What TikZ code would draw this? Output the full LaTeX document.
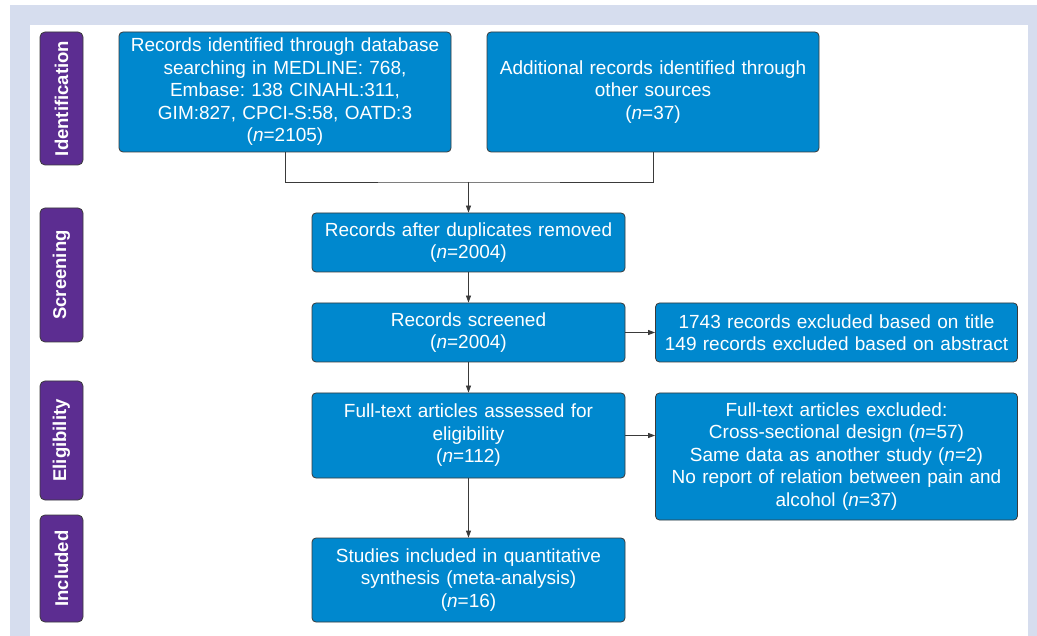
\documentclass[tikz,border=0pt]{standalone}
\usepackage{fontspec}
\setmainfont{Liberation Sans}
\usepackage{tikz}
\usetikzlibrary{positioning, arrows.meta, calc}

\definecolor{bandgrey}{HTML}{D6DDEE}
\definecolor{boxblue}{HTML}{0088CE}
\definecolor{stagepurple}{HTML}{5C2D91}
\definecolor{edgegrey}{HTML}{3A3A3A}
\newcommand{\ncount}{\textit{n}}
\frenchspacing

\begin{document}
\begin{tikzpicture}[
                x=1pt, y=-1pt,
                font=\fontsize{19}{22.5}\selectfont,
                flow/.style={-{Triangle[length=7pt, width=5pt]}, thick, edgegrey},
                joint/.style={thick, edgegrey},
                record_box/.style={rectangle, fill=boxblue, draw=edgegrey, thick, rounded corners=4pt, align=center, text=white, inner sep=0pt},
                stage_box/.style={rectangle, fill=stagepurple, draw=edgegrey, thick, rounded corners=5pt, rotate=90, text=white, font=\fontsize{18.5}{22}\selectfont\bfseries, minimum height=43pt, inner sep=0pt}
            ]
                % Frame
                \useasboundingbox (0,0) rectangle (1037,636);
                \fill[bandgrey] (10,5) rectangle (1037,636);
                \fill[white] (30,25) rectangle (1028,636);

                % Stage labels
                \node[stage_box, minimum width=133pt] (ident) at (61.5,98.5) {Identification};
                \node[stage_box, minimum width=134pt] (screen) at (61.5,275) {Screening};
                \node[stage_box, minimum width=119pt] (elig) at (61.5,440.5) {Eligibility};
                \node[stage_box, minimum width=107pt] (incl) at (61.5,568.5) {Included};

                % Identification boxes
                \node[record_box, minimum width=332pt, minimum height=120pt, text width=325pt] (database) at (285,92)
                    {Records identified through database\\searching in MEDLINE: 768,\\Embase: 138 CINAHL:311,\\GIM:827, CPCI-S:58, OATD:3\\(\ncount=2105)};
                \node[record_box, minimum width=332pt, minimum height=120pt, text width=325pt] (other) at (653,92)
                    {Additional records identified through\\other sources\\(\ncount=37)};

                % Main column
                \node[record_box, minimum width=313pt, minimum height=59pt, text width=306pt] (dedup) at (468.5,242.5)
                    {Records after duplicates removed\\(\ncount=2004)};
                \node[record_box, minimum width=313pt, minimum height=59pt, text width=306pt] (screened) at (468.5,332.5)
                    {Records screened\\(\ncount=2004)};
                \node[record_box, minimum width=313pt, minimum height=85pt, text width=306pt] (fulltext) at (468.5,435.5)
                    {Full-text articles assessed for\\eligibility\\(\ncount=112)};
                \node[record_box, minimum width=313pt, minimum height=84pt, text width=306pt] (included) at (468.5,580)
                    {Studies included in quantitative\\synthesis (meta-analysis)\\(\ncount=16)};

                % Exclusion boxes
                \node[record_box, minimum width=362pt, minimum height=59pt, text width=356pt] (excl_title) at (836.5,332.5)
                    {1743 records excluded based on title\\149 records excluded based on abstract};
                \node[record_box, minimum width=362pt, minimum height=127pt, text width=356pt] (excl_full) at (836.5,456.5)
                    {Full-text articles excluded:\\Cross-sectional design (\ncount=57)\\Same data as another study (\ncount=2)\\No report of relation between pain and\\alcohol (\ncount=37)};

                % Connectors
                \coordinate (merge) at (468.5,182);
                \draw[joint] (database.south) |- (merge) -| (other.south);
                \draw[flow] (merge) -- (dedup);
                \draw[flow] (dedup) -- (screened);
                \draw[flow] (screened) -- (fulltext);
                \draw[flow] (fulltext) -- (included);
                \draw[flow] (screened) -- (excl_title);
                \draw[flow] (fulltext.east) -- (fulltext.east -| excl_full.west);

            \end{tikzpicture}
\end{document}
